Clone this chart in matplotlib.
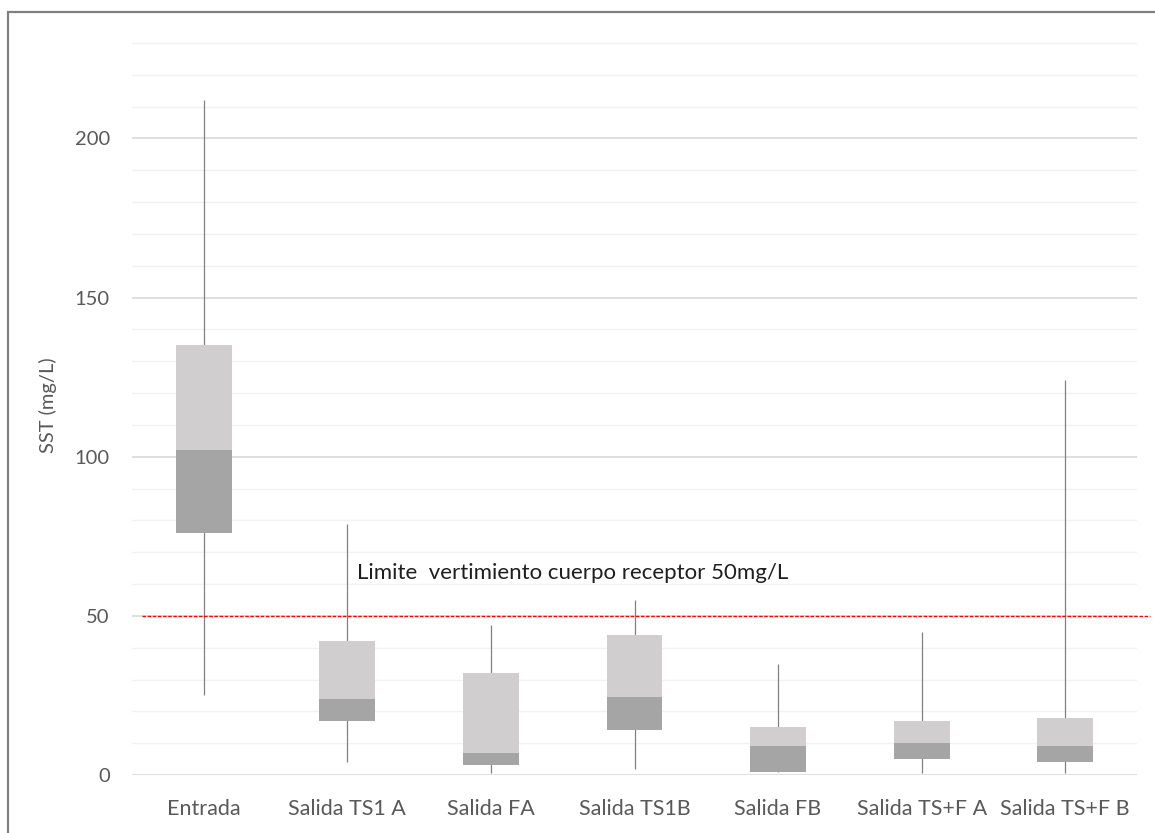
import matplotlib
matplotlib.use("Agg")
import matplotlib.pyplot as plt
from matplotlib.patches import Rectangle
from matplotlib.ticker import MultipleLocator

plt.rcParams['font.family'] = ['Lato', 'DejaVu Sans']

# Box-plot summary for each sampling point (mg/L)
categories = ["Entrada", "Salida TS1 A", "Salida FA", "Salida TS1B",
              "Salida FB", "Salida TS+F A", "Salida TS+F B"]
whisker_low = [25, 4, 0.5, 2, 1, 0.5, 0.5]
q1 = [76, 17, 3, 14, 1, 5, 4]
median = [102, 24, 7, 24.5, 9, 10, 9]
q3 = [135, 42, 32, 44, 15, 17, 18]
whisker_high = [212, 79, 47, 55, 35, 45, 124]

LIMIT = 50  # discharge limit, mg/L
limit_label = f"Limite  vertimiento cuerpo receptor {LIMIT}mg/L"

W, H, DPI = 1155, 833, 100
fig = plt.figure(figsize=(W / DPI, H / DPI), dpi=DPI)
ax = fig.add_axes([132 / W, 1 - 775 / H, (1137 - 132) / W, (775 - 41.7) / H])

x = list(range(len(categories)))
box_w = 0.39
dark = "#A5A5A5"
light = "#D0CECE"
whisk = "#808080"

# whiskers behind the boxes
ax.vlines(x, whisker_low, whisker_high, color=whisk, lw=0.9, zorder=2)

lower = [m - a for m, a in zip(median, q1)]
upper = [b - m for b, m in zip(q3, median)]
ax.bar(x, lower, bottom=q1, width=box_w, color=dark, zorder=3)
ax.bar(x, upper, bottom=median, width=box_w, color=light, zorder=3)

ax.set_xlim(-0.5, len(categories) - 0.5)
ax.set_ylim(0, 230.4)
ax.yaxis.set_major_locator(MultipleLocator(50))
ax.yaxis.set_minor_locator(MultipleLocator(10))
ax.set_yticks([0, 50, 100, 150, 200])
ax.grid(which="major", axis="y", color="#D9D9D9", lw=1.2, zorder=0)
ax.grid(which="minor", axis="y", color="#F2F2F2", lw=1.0, zorder=0)
ax.set_axisbelow(True)
for s in ax.spines.values():
    s.set_visible(False)

ax.set_xticks(x)
ax.set_xticklabels(categories)
ax.tick_params(axis="both", which="both", length=0, labelcolor="#595959")
ax.tick_params(axis="y", pad=16, labelsize=14.5)
ax.tick_params(axis="x", pad=17, labelsize=15.5)

# discharge limit
ax.axhline(LIMIT, xmin=0.0095, xmax=1.013, color="#FF0000", lw=1.0,
           ls=(0, (2.5, 1.2)), zorder=4, clip_on=False)
ax.text(1.07, 63.5, limit_label, fontsize=16, color="#1F1F1F",
        va="center", ha="left", zorder=5)

fig.text(48 / W, 1 - 405 / H, "SST (mg/L)", rotation=90, color="#595959",
         fontsize=14.5, ha="center", va="center")

# chart-area frame
fig.patches.append(Rectangle((8 / W, -0.05), 1.2, 1 - 12 / H + 0.05,
                             transform=fig.transFigure, fill=False,
                             edgecolor="#808080", lw=1.6))

fig.savefig("out.png", dpi=DPI)
